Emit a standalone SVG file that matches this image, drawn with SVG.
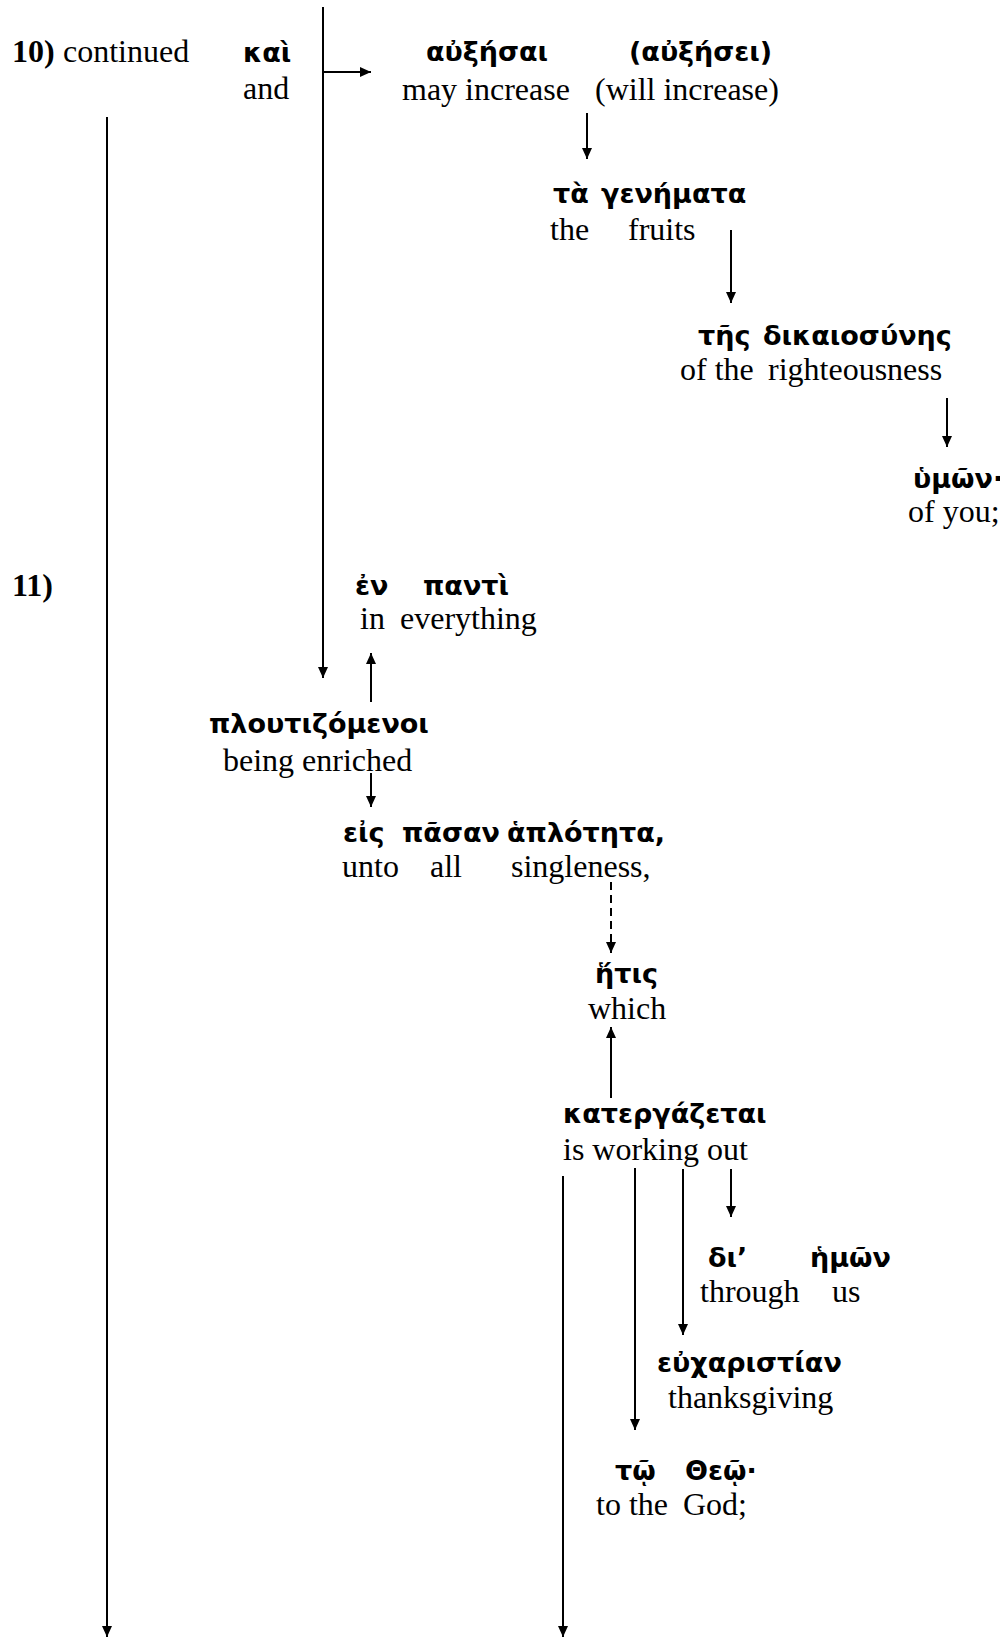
<svg xmlns="http://www.w3.org/2000/svg" width="1000" height="1637" viewBox="0 0 1000 1637">
  <style>
    .gk { font-family: "DejaVu Sans", "Noto Sans", sans-serif; font-weight: bold; font-size: 27px; fill: #000; }
    .en { font-family: "Liberation Serif", "Times New Roman", serif; font-size: 32px; fill: #000; }
    .num { font-family: "Liberation Serif", "Times New Roman", serif; font-size: 32px; font-weight: bold; fill: #000; }
    .ln { stroke: #000; stroke-width: 2; fill: none; }
    .arr { marker-end: url(#head); }
    .dash { stroke-dasharray: 8 5; }
  </style>
  <defs>
    <marker id="head" markerUnits="userSpaceOnUse" markerWidth="11" markerHeight="10" refX="11" refY="5" orient="auto">
      <path d="M0,0 L11,5 L0,10 z" fill="#000"/>
    </marker>
  </defs>
  <rect width="1000" height="1637" fill="#fff"/>

  <!-- verse labels -->
  <g id="v10">
    <text class="num" x="12" y="62">10)</text>
    <text class="en" x="63" y="62">continued</text>
  </g>
  <g id="v11">
    <text class="num" x="12" y="596">11)</text>
  </g>

  <!-- nodes -->
  <g id="kai">
    <text class="gk" x="243" y="62">καὶ</text>
    <text class="en" x="243" y="99">and</text>
  </g>
  <g id="auxesai">
    <text class="gk" y="61"><tspan x="426">αὐξήσαι</tspan><tspan x="629">(αὐξήσει)</tspan></text>
    <text class="en" y="100"><tspan x="402">may increase</tspan><tspan x="595">(will increase)</tspan></text>
  </g>
  <g id="genemata">
    <text class="gk" y="203"><tspan x="553">τὰ</tspan><tspan x="601">γενήματα</tspan></text>
    <text class="en" y="240"><tspan x="550">the</tspan><tspan x="628">fruits</tspan></text>
  </g>
  <g id="dikaiosunes">
    <text class="gk" y="345"><tspan x="698">τῆς</tspan><tspan x="763">δικαιοσύνης</tspan></text>
    <text class="en" y="380"><tspan x="680">of the</tspan><tspan x="768">righteousness</tspan></text>
  </g>
  <g id="humon">
    <text class="gk" x="913" y="488">ὑμῶν·</text>
    <text class="en" x="908" y="522">of you;</text>
  </g>
  <g id="en-panti">
    <text class="gk" y="595"><tspan x="355">ἐν</tspan><tspan x="423">παντὶ</tspan></text>
    <text class="en" y="629"><tspan x="360">in</tspan><tspan x="400">everything</tspan></text>
  </g>
  <g id="ploutizomenoi">
    <text class="gk" x="209" y="733">πλουτιζόμενοι</text>
    <text class="en" x="223" y="771">being enriched</text>
  </g>
  <g id="eis-pasan">
    <text class="gk" y="842"><tspan x="343">εἰς</tspan><tspan x="402">πᾶσαν</tspan><tspan x="507">ἁπλότητα,</tspan></text>
    <text class="en" y="877"><tspan x="342">unto</tspan><tspan x="430">all</tspan><tspan x="511">singleness,</tspan></text>
  </g>
  <g id="hetis">
    <text class="gk" x="595" y="983">ἥτις</text>
    <text class="en" x="588" y="1019">which</text>
  </g>
  <g id="katergazetai">
    <text class="gk" x="563" y="1123">κατεργάζεται</text>
    <text class="en" x="563" y="1160">is working out</text>
  </g>
  <g id="di-hemon">
    <text class="gk" y="1267"><tspan x="708">δι’</tspan><tspan x="810">ἡμῶν</tspan></text>
    <text class="en" y="1302"><tspan x="700">through</tspan><tspan x="832">us</tspan></text>
  </g>
  <g id="eucharistian">
    <text class="gk" x="657" y="1372">εὐχαριστίαν</text>
    <text class="en" x="668" y="1408">thanksgiving</text>
  </g>
  <g id="to-theo">
    <text class="gk" y="1480"><tspan x="615">τῷ</tspan><tspan x="685">Θεῷ·</tspan></text>
    <text class="en" y="1515"><tspan x="596">to the</tspan><tspan x="683">God;</tspan></text>
  </g>

  <!-- connectors -->
  <g id="connectors">
    <line class="ln arr" x1="107" y1="117" x2="107" y2="1637"/>
    <line class="ln arr" x1="323" y1="7" x2="323" y2="678"/>
    <line class="ln arr" x1="323" y1="72" x2="371" y2="72"/>
    <line class="ln arr" x1="587" y1="113" x2="587" y2="159"/>
    <line class="ln arr" x1="731" y1="230" x2="731" y2="303"/>
    <line class="ln arr" x1="947" y1="398" x2="947" y2="447"/>
    <line class="ln arr" x1="371" y1="702" x2="371" y2="653"/>
    <line class="ln arr" x1="371" y1="773" x2="371" y2="807"/>
    <line class="ln arr dash" x1="611" y1="882" x2="611" y2="953"/>
    <line class="ln arr" x1="611" y1="1098" x2="611" y2="1027"/>
    <line class="ln arr" x1="731" y1="1169" x2="731" y2="1217"/>
    <line class="ln arr" x1="683" y1="1169" x2="683" y2="1335"/>
    <line class="ln arr" x1="635" y1="1168" x2="635" y2="1430"/>
    <line class="ln arr" x1="563" y1="1176" x2="563" y2="1637"/>
  </g>
</svg>
